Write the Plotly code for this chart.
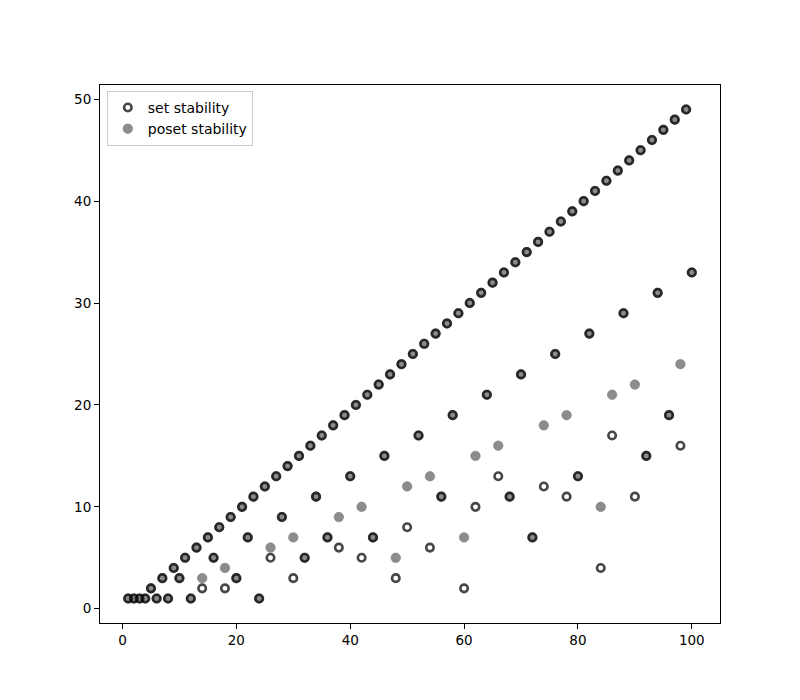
import plotly.graph_objects as go

n_values = list(range(1, 101))
set_stability = [
    1, 1, 1, 1, 2, 1, 3, 1, 4, 3,
    5, 1, 6, 2, 7, 5, 8, 2, 9, 3,
    10, 7, 11, 1, 12, 5, 13, 9, 14, 3,
    15, 5, 16, 11, 17, 7, 18, 6, 19, 13,
    20, 5, 21, 7, 22, 15, 23, 3, 24, 8,
    25, 17, 26, 6, 27, 11, 28, 19, 29, 2,
    30, 10, 31, 21, 32, 13, 33, 11, 34, 23,
    35, 7, 36, 12, 37, 25, 38, 11, 39, 13,
    40, 27, 41, 4, 42, 17, 43, 29, 44, 11,
    45, 15, 46, 31, 47, 19, 48, 16, 49, 33,
]
poset_stability = [
    1, 1, 1, 1, 2, 1, 3, 1, 4, 3,
    5, 1, 6, 3, 7, 5, 8, 4, 9, 3,
    10, 7, 11, 1, 12, 6, 13, 9, 14, 7,
    15, 5, 16, 11, 17, 7, 18, 9, 19, 13,
    20, 10, 21, 7, 22, 15, 23, 5, 24, 12,
    25, 17, 26, 13, 27, 11, 28, 19, 29, 7,
    30, 15, 31, 21, 32, 16, 33, 11, 34, 23,
    35, 7, 36, 18, 37, 25, 38, 19, 39, 13,
    40, 27, 41, 10, 42, 21, 43, 29, 44, 22,
    45, 15, 46, 31, 47, 19, 48, 24, 49, 33,
]
x_ticks = [0, 20, 40, 60, 80, 100]
y_ticks = [0, 10, 20, 30, 40, 50]

fig = go.Figure()
fig.add_trace(go.Scatter(
    x=n_values, y=poset_stability, mode="markers", name="poset stability",
    legendrank=2,
    marker=dict(size=9.5, color="#8c8c8c", line=dict(width=0.6, color="#7c7c7c")),
))
fig.add_trace(go.Scatter(
    x=n_values, y=set_stability, mode="markers", name="set stability",
    legendrank=1,
    marker=dict(size=7.5, color="rgba(0,0,0,0)", line=dict(width=2.6, color="rgba(0,0,0,0.72)")),
))

axis_common = dict(
    showgrid=False, zeroline=False, showline=True, linecolor="black", linewidth=1,
    mirror=True, ticks="outside", ticklen=5, tickwidth=1, tickcolor="black",
    tickfont=dict(family="DejaVu Sans", size=13.5, color="black"),
)
fig.update_xaxes(range=[-3.95, 104.95], tickvals=x_ticks, **axis_common)
fig.update_yaxes(range=[-1.4, 51.4], tickvals=y_ticks, **axis_common)

fig.update_layout(
    width=800, height=700,
    margin=dict(l=92, r=88, t=77, b=85),
    paper_bgcolor="white", plot_bgcolor="white",
    font=dict(family="DejaVu Sans", size=14, color="black"),
    legend=dict(
        x=0.011, y=0.989, xanchor="left", yanchor="top",
        bgcolor="rgba(255,255,255,0.8)", bordercolor="#cccccc", borderwidth=1,
        font=dict(family="DejaVu Sans", size=14, color="black"),
        tracegroupgap=0, itemsizing="trace",
    ),
    showlegend=True,
)

fig.write_html("out.html")
